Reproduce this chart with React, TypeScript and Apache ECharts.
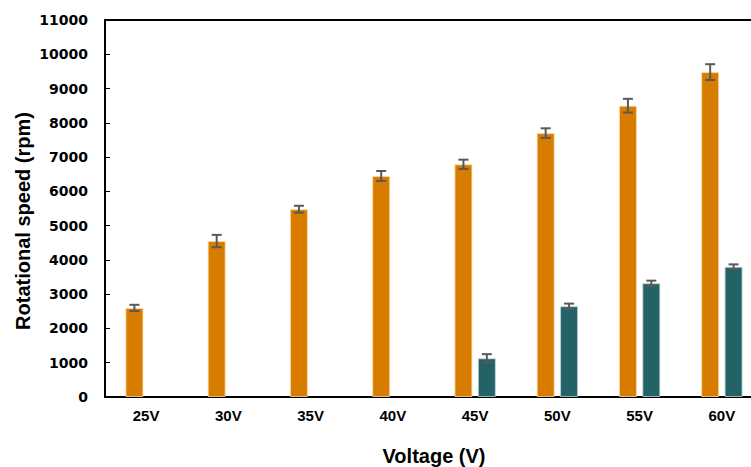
import React, { useEffect, useRef } from "react";
import * as echarts from "echarts";

const categories = ["25V", "30V", "35V", "40V", "45V", "50V", "55V", "60V"];
const orangeValues = [2600, 4550, 5480, 6450, 6790, 7700, 8500, 9480];
const orangeErrors = [90, 180, 100, 145, 135, 140, 200, 230];
const tealValues: (number | null)[] = [null, null, null, null, 1130, 2650, 3320, 3800];
const tealErrors: (number | null)[] = [null, null, null, null, 120, 75, 75, 70];

const BAR_W = 18;
const BAR_GAP = 0.3;
const OFFSET = BAR_W / 2 + (BAR_W * BAR_GAP) / 2;

function errData(vals: (number | null)[], errs: (number | null)[]) {
  const out: number[][] = [];
  vals.forEach((v, i) => {
    if (v != null && errs[i] != null) out.push([i, v, errs[i] as number]);
  });
  return out;
}

function makeErrRender(offset: number) {
  return (params: any, api: any) => {
    const i = api.value(0);
    const v = api.value(1);
    const e = api.value(2);
    const hi = api.coord([i, v + e]);
    const lo = api.coord([i, v - e]);
    const x = hi[0] + offset;
    const cap = 5;
    const style = { stroke: "#595959", lineWidth: 2 };
    return {
      type: "group",
      children: [
        { type: "line", shape: { x1: x, y1: hi[1], x2: x, y2: lo[1] }, style },
        { type: "line", shape: { x1: x - cap, y1: hi[1], x2: x + cap, y2: hi[1] }, style },
        { type: "line", shape: { x1: x - cap, y1: lo[1], x2: x + cap, y2: lo[1] }, style },
      ],
    };
  };
}

export default function App() {
  const ref = useRef<HTMLDivElement>(null);
  useEffect(() => {
    if (!ref.current) return;
    const chart = echarts.init(ref.current, undefined, { renderer: "svg" });
    chart.setOption({
      animation: false,
      backgroundColor: "#ffffff",
      grid: {
        left: 105,
        top: 20,
        width: 658,
        height: 377,
        outerBoundsMode: "none",
        containLabel: false,
        show: true,
        borderColor: "#000000",
        borderWidth: 2,
        backgroundColor: "transparent",
      },
      xAxis: {
        type: "category",
        data: categories,
        axisTick: { show: false },
        axisLine: { lineStyle: { color: "#000000", width: 2 } },
        axisLabel: {
          margin: 11,
          color: "#000000",
          fontFamily: "Liberation Sans",
          fontWeight: "bold",
          fontSize: 15,
        },
        name: "Voltage (V)",
        nameLocation: "middle",
        nameGap: 49,
        nameTextStyle: {
          color: "#000000",
          fontFamily: "Liberation Sans",
          fontWeight: "bold",
          fontSize: 20,
        },
      },
      yAxis: {
        type: "value",
        min: 0,
        max: 11000,
        interval: 1000,
        splitLine: { show: false },
        axisLine: { show: true, lineStyle: { color: "#000000", width: 2 } },
        axisTick: { show: true, inside: true, length: 5, lineStyle: { color: "#000000", width: 1 } },
        axisLabel: {
          margin: 17,
          color: "#000000",
          fontFamily: "DejaVu Sans",
          fontWeight: "bold",
          fontSize: 14,
          formatter: (v: number) => String(v),
        },
      },
      graphic: [
        {
          type: "text",
          x: 23,
          y: 221,
          rotation: Math.PI / 2,
          style: {
            text: "Rotational speed (rpm)",
            fill: "#000000",
            font: "bold 20px 'Liberation Sans'",
            align: "center",
            verticalAlign: "middle",
          },
        },
      ],
      series: [
        {
          type: "bar",
          data: orangeValues,
          barWidth: BAR_W,
          barGap: "30%",
          itemStyle: { color: "#D87C00", borderColor: "rgba(255,220,170,0.8)", borderWidth: 1 },
        },
        {
          type: "bar",
          data: tealValues,
          barWidth: BAR_W,
          barGap: "30%",
          itemStyle: { color: "#236266", borderColor: "rgba(190,215,215,0.8)", borderWidth: 1 },
        },
        {
          type: "custom",
          renderItem: makeErrRender(-OFFSET),
          data: errData(orangeValues, orangeErrors),
          encode: { x: 0, y: 1 },
          z: 10,
        },
        {
          type: "custom",
          renderItem: makeErrRender(OFFSET),
          data: errData(tealValues, tealErrors),
          encode: { x: 0, y: 1 },
          z: 10,
        },
      ],
    });
    return () => chart.dispose();
  }, []);
  return (
    <div
      ref={ref}
      style={{ position: "fixed", left: 0, top: 0, width: 751, height: 467 }}
    />
  );
}
